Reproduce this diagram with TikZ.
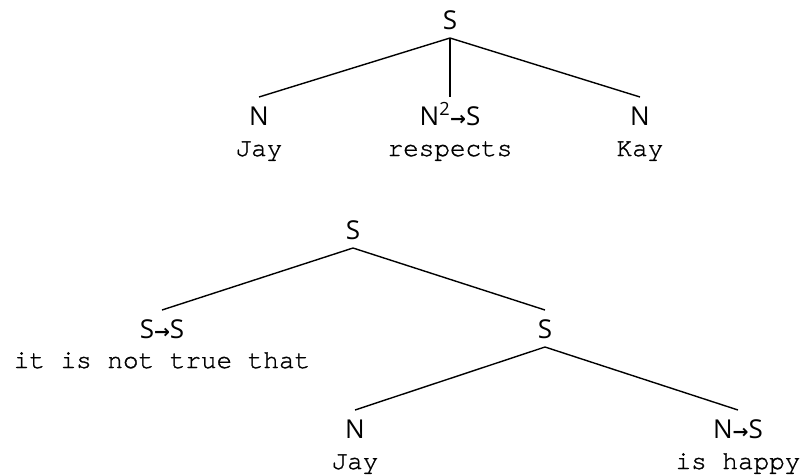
\documentclass[tikz,border=0pt]{standalone}
\usepackage{fontspec}
\setmainfont{Open Sans}
\setmonofont{texgyrecursor-regular.otf}[FakeBold=1.2]
\newfontfamily\arrowfont{DejaVu Sans}
\newcommand{\tarr}{{\arrowfont\bfseries\fontsize{19}{24}\selectfont →}}
\begin{document}
\begin{tikzpicture}[x=1pt,y=-1pt,
  cat/.style={font=\fontsize{26}{30}\selectfont, anchor=base, inner xsep=0pt, inner ysep=9pt, outer sep=0pt, text height=19pt, text depth=0pt},
  word/.style={font=\ttfamily\fontsize{26}{30}\selectfont, anchor=base, inner sep=0pt},
  branch/.style={line width=1.4pt}]
\useasboundingbox (0,0) rectangle (803,475);
% top tree
\node[cat] (s1) at (450,29) {S};
\node[cat] (n1) at (259,125) {N};
\node[cat] (v1) at (450,125) {N\textsuperscript{2}\tarr S};
\node[cat] (n2) at (640,125) {N};
\node[word] (w1) at (259,156) {Jay};
\node[word] (w2) at (450,156) {respects};
\node[word] (w3) at (640,156) {Kay};
\draw[branch] (s1.south) -- (n1.north);
\draw[branch] (s1.south) -- (v1.north);
\draw[branch] (s1.south) -- (n2.north);
% bottom tree
\node[cat] (s2) at (353,239) {S};
\node[cat] (op) at (162,338) {S\tarr S};
\node[cat] (s3) at (545,338) {S};
\node[cat] (n3) at (355,438) {N};
\node[cat] (p1) at (738,438) {N\tarr S};
\node[word] (w4) at (162,368) {it is not true that};
\node[word] (w5) at (355,469) {Jay};
\node[word] (w6) at (738,469) {is happy};
\draw[branch] (s2.south) -- (op.north);
\draw[branch] (s2.south) -- (s3.north);
\draw[branch] (s3.south) -- (n3.north);
\draw[branch] (s3.south) -- (p1.north);
\end{tikzpicture}
\end{document}
